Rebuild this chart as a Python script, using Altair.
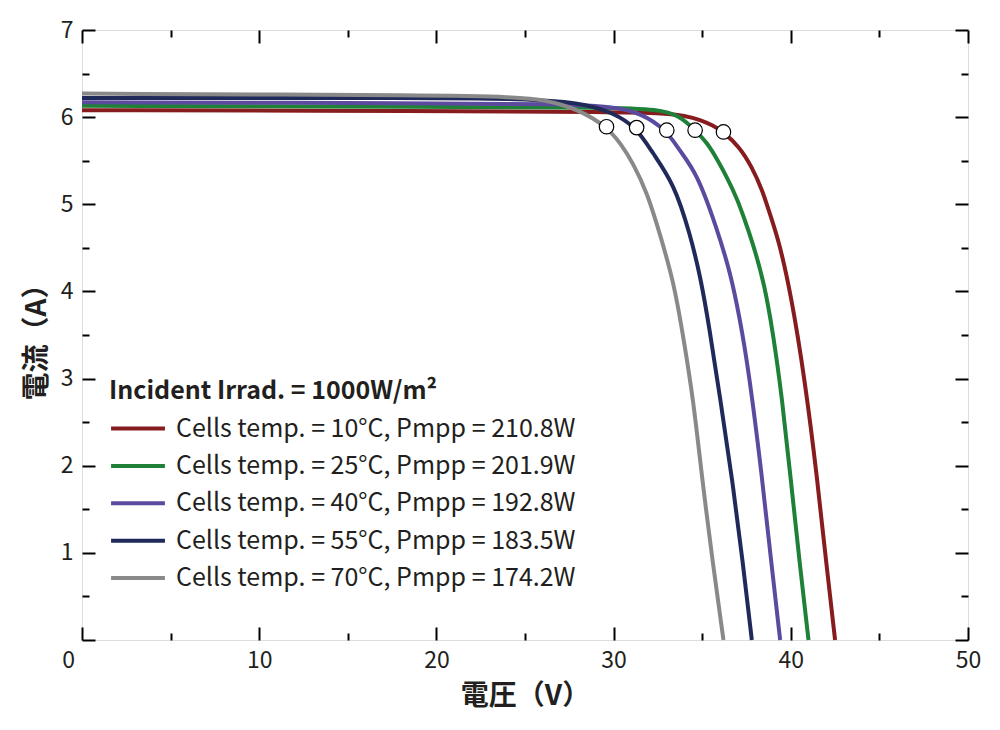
import altair as alt
import pandas as pd

FONT = "Noto Sans CJK JP"

series_labels = [
    "Cells temp. = 10°C, Pmpp = 210.8W",
    "Cells temp. = 25°C, Pmpp = 201.9W",
    "Cells temp. = 40°C, Pmpp = 192.8W",
    "Cells temp. = 55°C, Pmpp = 183.5W",
    "Cells temp. = 70°C, Pmpp = 174.2W",
]
series_colors = ["#861c1e", "#1f8137", "#5c4a9f", "#1f2a5a", "#898989"]

v_10 = [0, 20, 30, 33.0, 34.0, 34.9, 35.6, 36.2, 37.1, 37.8, 38.4, 38.8, 39.3, 40.0, 40.8, 41.5, 42.0, 42.5]
i_10 = [6.08, 6.07, 6.06, 6.045, 6.015, 5.97, 5.905, 5.83, 5.66, 5.43, 5.16, 4.90, 4.60, 3.98, 2.98, 1.84, 0.88, 0.0]

v_25 = [0, 20, 30, 32.5, 33.7, 34.6, 35.3, 35.8, 36.4, 37.0, 37.4, 37.8, 38.5, 39.0, 39.5, 40.0, 40.5, 41.0]
i_25 = [6.13, 6.12, 6.11, 6.09, 6.02, 5.85, 5.70, 5.53, 5.31, 5.05, 4.82, 4.59, 4.10, 3.52, 2.79, 1.84, 0.88, 0.0]

v_40 = [0, 20, 27.0, 30.0, 31.5, 33.0, 33.7, 34.7, 35.8, 36.6, 37.1, 37.6, 38.4, 38.9, 39.4]
i_40 = [6.17, 6.16, 6.15, 6.12, 6.05, 5.85, 5.62, 5.36, 4.74, 4.21, 3.71, 3.13, 1.84, 0.88, 0.0]

v_55 = [0, 20, 24.7, 28.1, 30.0, 31.3, 32.2, 33.4, 34.3, 34.9, 35.4, 36.0, 36.7, 37.3, 37.8]
i_55 = [6.22, 6.22, 6.21, 6.17, 6.05, 5.88, 5.59, 5.24, 4.67, 4.17, 3.59, 2.79, 1.84, 0.88, 0.0]

v_70 = [0, 20.8, 24.2, 26.2, 28.1, 29.6, 30.4, 31.1, 31.9, 32.6, 33.4, 33.9, 34.5, 35.0, 35.6, 36.2]
i_70 = [6.27, 6.25, 6.23, 6.20, 6.08, 5.89, 5.70, 5.47, 5.13, 4.67, 4.10, 3.52, 2.76, 1.84, 0.88, 0.0]

mpp_v = [36.2, 34.6, 33.0, 31.3, 29.6]
mpp_i = [5.83, 5.85, 5.85, 5.88, 5.89]

x_major = [0, 10, 20, 30, 40, 50]
x_minor = [5, 15, 25, 35, 45]
y_major = [0, 1, 2, 3, 4, 5, 6, 7]
y_labels = [1, 2, 3, 4, 5, 6, 7]
y_minor = [0.5, 1.5, 2.5, 3.5, 4.5, 5.5, 6.5]

rows = []
for lab, vs, cs in zip(series_labels, [v_10, v_25, v_40, v_55, v_70], [i_10, i_25, i_40, i_55, i_70]):
    for k, (v, c) in enumerate(zip(vs, cs)):
        rows.append({"series": lab, "v": v, "i": c, "order": k})
df = pd.DataFrame(rows)
mpp = pd.DataFrame({"v": mpp_v, "i": mpp_i})

xs = alt.Scale(domain=[0, 50], nice=False, zero=False)
ys = alt.Scale(domain=[0, 7], nice=False, zero=False)
TXT = "#231f20"


def tick_axis(values, size, orient):
    return alt.Axis(values=values, labels=False, domain=False, grid=False, title=None,
                    ticks=True, tickSize=size, tickWidth=2, tickColor="black",
                    offset=-size, orient=orient)


lines = alt.Chart(df).mark_line(strokeWidth=4, interpolate="basis").encode(
    x=alt.X("v:Q", scale=xs, axis=alt.Axis(
        values=x_major, ticks=False, domain=False, grid=False, labelFlush=False,
        labelFontSize=23, labelPadding=9, labelColor=TXT, labelFont=FONT,
        labelOffset={"condition": {"test": "datum.value == 0", "value": -14}, "value": 0},
        title="電圧（V）", titleFont=FONT, titleFontSize=28, titleFontWeight="bold",
        titleColor=TXT, titlePadding=10, orient="bottom")),
    y=alt.Y("i:Q", scale=ys, axis=alt.Axis(
        values=y_labels, ticks=False, domain=False, grid=False, labelFlush=False,
        labelFontSize=23, labelPadding=9, labelColor=TXT, labelFont=FONT,
        title="電流（A）", titleFont=FONT, titleFontSize=28, titleFontWeight="bold",
        titleColor=TXT, titlePadding=9, orient="left")),
    color=alt.Color("series:N", sort=series_labels,
                    scale=alt.Scale(domain=series_labels, range=series_colors),
                    legend=alt.Legend(title="Incident Irrad. = 1000W/m²", orient="none",
                                      legendX=27, legendY=349,
                                      titleFont=FONT, titleFontSize=25, titleFontWeight="bold",
                                      titleColor=TXT, titlePadding=12, titleLimit=600,
                                      labelFont=FONT, labelFontSize=25, labelColor=TXT,
                                      labelOffset=9, symbolType="stroke", symbolSize=2900,
                                      symbolStrokeWidth=4, clipHeight=25, rowPadding=11.4,
                                      labelLimit=700)),
    order="order:Q",
)

pts = alt.Chart(mpp).mark_point(filled=True, fill="white", stroke="black", strokeWidth=1.2,
                                size=210, opacity=1).encode(
    x=alt.X("v:Q", scale=xs, axis=tick_axis(x_major, 13, "bottom")),
    y=alt.Y("i:Q", scale=ys, axis=tick_axis(y_major, 13, "left")),
)


def ghost(xa, ya):
    return alt.Chart(mpp).mark_point(opacity=0).encode(
        x=alt.X("v:Q", scale=xs, axis=xa),
        y=alt.Y("i:Q", scale=ys, axis=ya),
    )


g1 = ghost(tick_axis(x_minor, 7, "bottom"), tick_axis(y_minor, 7, "left"))
g2 = ghost(tick_axis(x_major, 13, "top"), tick_axis(y_major, 13, "right"))
g3 = ghost(tick_axis(x_minor, 7, "top"), tick_axis(y_minor, 7, "right"))

chart = alt.layer(lines, pts, g1, g2, g3).resolve_axis(
    x="independent", y="independent"
).properties(
    width=886, height=610,
    autosize=alt.AutoSizeParams(type="none"),
    padding={"left": 74, "top": 22, "right": 24, "bottom": 82},
).configure_view(stroke="black", strokeWidth=2).configure(font=FONT, background="white")

chart.save("out.html", embed_options={"renderer": "svg", "actions": False})
